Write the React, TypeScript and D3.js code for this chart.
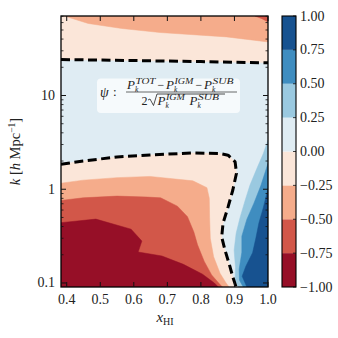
import React from 'react';
import * as d3 from 'd3';

// ---- axis limits & ticks ----
const X_LIMITS: [number, number] = [0.383, 1.0];
const K_LIMITS: [number, number] = [0.0906, 70.5];
const X_TICKS = [0.4, 0.5, 0.6, 0.7, 0.8, 0.9, 1.0];
const K_MAJOR = [0.1, 1, 10];
const K_MAJOR_LABELS = ['0.1', '1', '10'];
const LEVELS = [-1, -0.75, -0.5, -0.25, 0, 0.25, 0.5, 0.75, 1];
const CB_LABELS = ['\u22121.00', '\u22120.75', '\u22120.50', '\u22120.25', '0.00', '0.25', '0.50', '0.75', '1.00'];

// ---- contour lines: [x_HI, k] ----
const ZERO_TOP: [number, number][] = [[0.383, 24.2], [0.6, 23.6], [0.8, 23.0], [1.0, 22.3]];
const M25_TOP: [number, number][] = [[0.393, 70.5], [0.464, 58.7], [0.564, 51.9], [0.678, 47], [0.877, 42.2], [1.0, 37.3]];
const M50_TOP: [number, number][] = [[0.961, 70.5], [0.982, 66], [1.0, 61]];

const ZERO_LOW: [number, number][] = [
  [0.383, 1.85], [0.449, 2.0], [0.55, 2.21], [0.648, 2.32], [0.776, 2.44], [0.857, 2.4], [0.881, 2.31],
  [0.902, 1.96], [0.906, 1.48], [0.895, 0.976], [0.881, 0.648], [0.866, 0.434], [0.862, 0.31],
  [0.872, 0.223], [0.887, 0.148], [0.895, 0.116], [0.905, 0.0906],
];
const M25_LOW: [number, number][] = [
  [0.383, 1.16], [0.449, 1.25], [0.55, 1.33], [0.648, 1.37], [0.776, 1.23], [0.818, 1.04], [0.825, 0.8],
  [0.826, 0.5], [0.828, 0.3], [0.838, 0.19], [0.857, 0.127], [0.875, 0.1], [0.884, 0.0906],
];
const M50_LOW: [number, number][] = [
  [0.383, 0.76], [0.449, 0.81], [0.55, 0.845], [0.64, 0.825], [0.68, 0.81], [0.73, 0.66], [0.76, 0.51],
  [0.779, 0.35], [0.79, 0.255], [0.81, 0.17], [0.832, 0.122], [0.855, 0.098], [0.864, 0.0906],
];
const M75_LOW: [number, number][] = [
  [0.383, 0.44], [0.487, 0.48], [0.592, 0.375], [0.624, 0.28], [0.613, 0.214], [0.684, 0.194],
  [0.748, 0.158], [0.805, 0.124], [0.84, 0.1], [0.852, 0.0906],
];
const P25_RIGHT: [number, number][] = [
  [1.0, 3.33], [0.986, 2.4], [0.967, 1.67], [0.946, 1.1], [0.932, 0.763], [0.917, 0.503], [0.905, 0.339],
  [0.899, 0.223], [0.903, 0.147], [0.902, 0.107], [0.912, 0.0906],
];
const P50_RIGHT: [number, number][] = [
  [1.0, 1.89], [0.979, 1.1], [0.958, 0.71], [0.937, 0.479], [0.922, 0.316], [0.922, 0.213], [0.914, 0.14],
  [0.915, 0.107], [0.926, 0.0906],
];
const P75_RIGHT: [number, number][] = [
  [1.0, 1.02], [0.986, 0.635], [0.973, 0.439], [0.964, 0.303], [0.954, 0.21], [0.934, 0.151], [0.923, 0.118],
  [0.937, 0.0906],
];

const RDBU = ['#67001f', '#b2182b', '#d6604d', '#f4a582', '#fddbc7', '#f7f7f7', '#d1e5f0', '#92c5de', '#4393c3', '#2166ac', '#053061'];

const SERIF = '"Liberation Serif", "DejaVu Serif", serif';

export default function App() {
  const W = 338, H = 338;
  const L = 61, R = 268, T = 16, B = 287;
  const x = d3.scaleLinear().domain(X_LIMITS).range([L, R]);
  const y = d3.scaleLog().domain(K_LIMITS).range([B, T]);
  const cmap = d3.scaleLinear<string>().domain(d3.range(11).map((i) => i / 10)).range(RDBU).interpolate(d3.interpolateRgb);
  const norm = d3.scaleLinear().domain([LEVELS[0], LEVELS[LEVELS.length - 1]]).range([0, 1]);
  const band = (lo: number) => cmap(norm(lo + 0.125));

  const line = d3.line<[number, number]>().x((d) => x(d[0])).y((d) => y(d[1]));
  const [x0, x1] = X_LIMITS;
  const [k0, k1] = K_LIMITS;

  const regions: { pts: [number, number][]; color: string }[] = [
    { pts: [...ZERO_TOP, [x1, k1], [x0, k1]], color: band(-0.25) },
    { pts: [...M25_TOP, [x1, k1]], color: band(-0.5) },
    { pts: [...M50_TOP, [x1, k1]], color: band(-0.75) },
    { pts: [...ZERO_LOW, [x0, k0]], color: band(-0.25) },
    { pts: [...M25_LOW, [x0, k0]], color: band(-0.5) },
    { pts: [...M50_LOW, [x0, k0]], color: band(-0.75) },
    { pts: [...M75_LOW, [x0, k0]], color: band(-1) },
    { pts: [...P25_RIGHT, [x1, k0]], color: band(0.25) },
    { pts: [...P50_RIGHT, [x1, k0]], color: band(0.5) },
    { pts: [...P75_RIGHT, [x1, k0]], color: band(0.75) },
  ];

  const kMinor = y.ticks().filter((t) => !K_MAJOR.includes(t) && t >= k0 && t <= k1);

  // colorbar
  const cbL = 282, cbR = 296;
  const cy = d3.scaleLinear().domain([-1, 1]).range([B, T]);

  const fs = 14;
  const tickCol = '#111';

  // formula layout (fraction)
  const nb = 88.5; // numerator baseline
  const db = 104.5; // denominator baseline
  const Pk = (px: number, base: number, sup: string, supLen: number, key: string) => (
    <g key={key}>
      <text x={px} y={base} fontSize={13} fontStyle="italic">P</text>
      <text x={px + 8} y={base + 3.2} fontSize={7.5} fontStyle="italic">k</text>
      <text x={px + 8.5} y={base - 5} fontSize={7.5} fontStyle="italic" textLength={supLen} lengthAdjust="spacingAndGlyphs">{sup}</text>
    </g>
  );

  return (
    <svg width={W} height={H} style={{ position: 'absolute', left: 0, top: 0, background: '#fff' }} fontFamily={SERIF}>
      <defs>
        <clipPath id="plotclip"><rect x={L} y={T} width={R - L} height={B - T} /></clipPath>
      </defs>
      <g clipPath="url(#plotclip)">
        <rect x={L} y={T} width={R - L} height={B - T} fill={band(0)} />
        {regions.map((r, i) => (
          <path key={i} d={line(r.pts) + 'Z'} fill={r.color} stroke={r.color} strokeWidth={0.5} />
        ))}
        <path d={line(ZERO_TOP) || ''} fill="none" stroke="#000" strokeWidth={3} strokeDasharray="9,4.5" />
        <path d={line(ZERO_LOW) || ''} fill="none" stroke="#000" strokeWidth={3} strokeDasharray="9,4.5" strokeLinejoin="round" />
      </g>

      {/* formula box */}
      <rect x={97} y={78.5} width={143} height={34.5} rx={4} fill="#fff" fillOpacity={0.72} />
      <g fill="#222" fontFamily={SERIF}>
        <text x={100} y={96.5} fontSize={14} fontStyle="italic">{'\u03C8'}</text>
        <text x={113} y={96} fontSize={13}>:</text>
        {Pk(127, nb, 'TOT', 20, 'n1')}
        <text x={157.5} y={nb} fontSize={12}>{'\u2212'}</text>
        {Pk(166, nb, 'IGM', 19, 'n2')}
        <text x={195.5} y={nb} fontSize={12}>{'\u2212'}</text>
        {Pk(204, nb, 'SUB', 21, 'n3')}
        <line x1={126} x2={237} y1={92} y2={92} stroke="#444" strokeWidth={0.8} />
        <text x={141.5} y={db} fontSize={12}>2</text>
        <path d={`M148,${db - 4.5} L150,${db - 5.5} L153.5,${db + 1} L157,94 L225,94`} fill="none" stroke="#222" strokeWidth={0.8} />
        {Pk(157.5, db, 'IGM', 19, 'd1')}
        {Pk(189.5, db, 'SUB', 21, 'd2')}
      </g>

      {/* frame */}
      <rect x={L} y={T} width={R - L} height={B - T} fill="none" stroke="#000" strokeWidth={1.3} />

      {/* x ticks */}
      {X_TICKS.map((t) => (
        <g key={'x' + t}>
          <line x1={x(t)} x2={x(t)} y1={B} y2={B - 5} stroke={tickCol} strokeWidth={1} />
          <line x1={x(t)} x2={x(t)} y1={T} y2={T + 5} stroke={tickCol} strokeWidth={1} />
          <text x={x(t)} y={B + 17} fontSize={fs} textAnchor="middle" fill="#222">{t.toFixed(1)}</text>
        </g>
      ))}
      {/* y ticks */}
      {K_MAJOR.map((t, i) => (
        <g key={'k' + t}>
          <line x1={L} x2={L + 5} y1={y(t)} y2={y(t)} stroke={tickCol} strokeWidth={1} />
          <line x1={R} x2={R - 5} y1={y(t)} y2={y(t)} stroke={tickCol} strokeWidth={1} />
          <text x={55} y={y(t) + 4.5} fontSize={fs} textAnchor="end" fill="#222">{K_MAJOR_LABELS[i]}</text>
        </g>
      ))}
      {kMinor.map((t) => (
        <g key={'km' + t}>
          <line x1={L} x2={L + 2.5} y1={y(t)} y2={y(t)} stroke={tickCol} strokeWidth={0.8} />
          <line x1={R} x2={R - 2.5} y1={y(t)} y2={y(t)} stroke={tickCol} strokeWidth={0.8} />
        </g>
      ))}

      {/* axis labels */}
      <text x={165} y={322} fontSize={15} textAnchor="middle" fill="#222">
        <tspan fontStyle="italic">x</tspan>
        <tspan fontSize={10} dy={3}>HI</tspan>
      </text>
      <text transform={`translate(20,${(T + B) / 2}) rotate(-90)`} fontSize={14.5} textAnchor="middle" fill="#222">
        <tspan fontStyle="italic">k</tspan>
        <tspan> [</tspan>
        <tspan fontStyle="italic">h</tspan>
        <tspan> Mpc</tspan>
        <tspan fontSize={9.5} dy={-5}>{'\u22121'}</tspan>
        <tspan dy={5}>]</tspan>
      </text>

      {/* colorbar */}
      {LEVELS.slice(0, -1).map((lo, i) => (
        <rect key={'cb' + i} x={cbL} width={cbR - cbL} y={cy(LEVELS[i + 1])} height={cy(lo) - cy(LEVELS[i + 1])} fill={band(lo)} />
      ))}
      {LEVELS.map((lv, i) => (
        <g key={'cbt' + i}>
          <line x1={cbR} x2={cbR - 3} y1={cy(lv)} y2={cy(lv)} stroke={tickCol} strokeWidth={0.8} />
          <text x={300} y={cy(lv) + 4.5} fontSize={fs} fill="#222">{CB_LABELS[i]}</text>
        </g>
      ))}
      <rect x={cbL} y={T} width={cbR - cbL} height={B - T} fill="none" stroke="#000" strokeWidth={1.1} />
    </svg>
  );
}
